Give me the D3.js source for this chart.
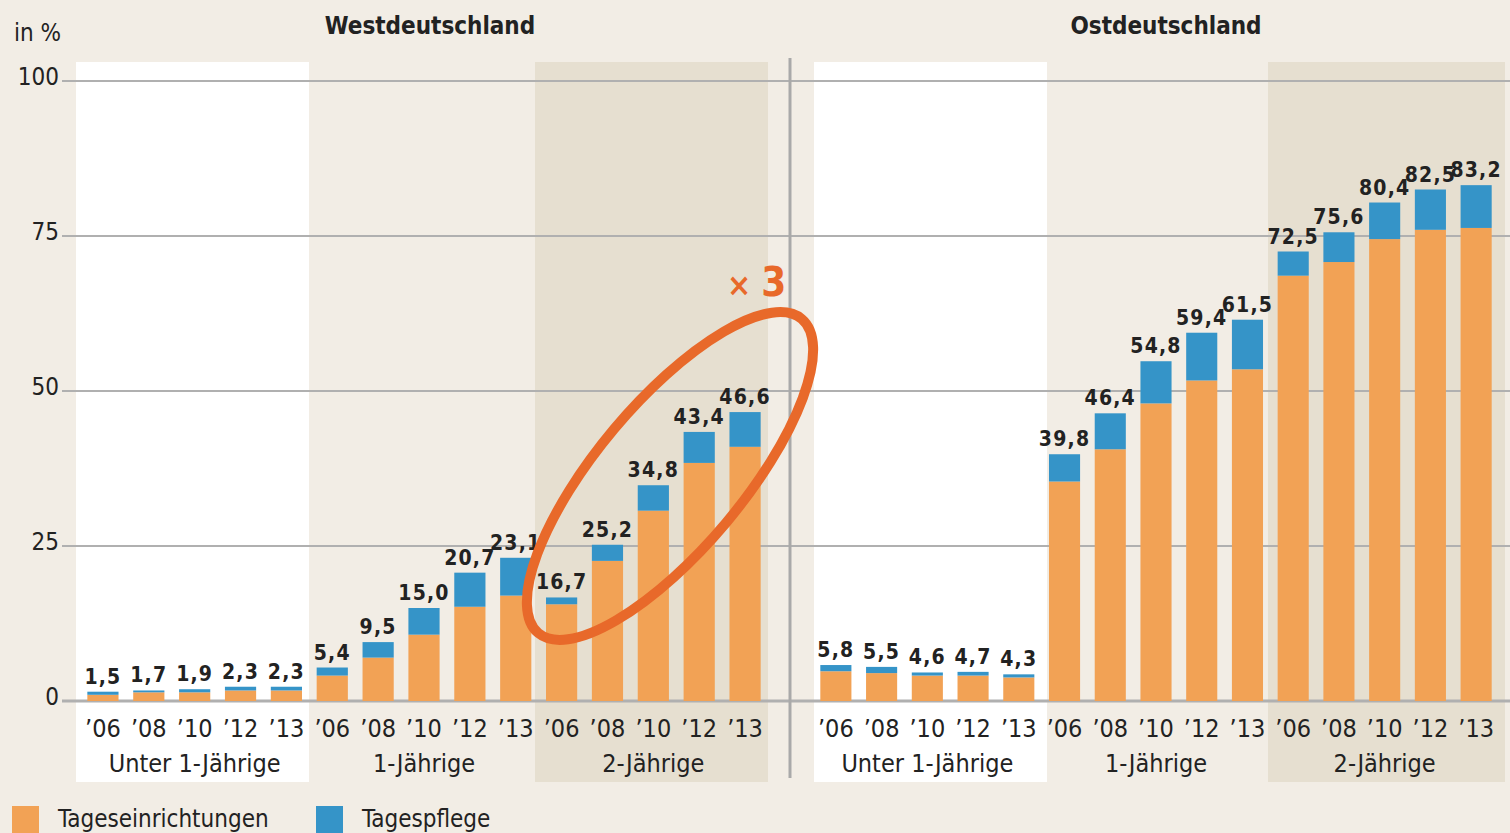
<!DOCTYPE html>
<html><head><meta charset="utf-8">
<script src="https://cdn.jsdelivr.net/npm/d3@7"></script>
<style>html,body{margin:0;padding:0;background:#f2ede5;}svg{display:block;}</style>
</head><body><svg id="c" width="1510" height="833"></svg>
<script>
const years = ["’06","’08","’10","’12","’13"];
const groups = ["Unter 1-Jährige","1-Jährige","2-Jährige"];
const panelTitles = ["Westdeutschland","Ostdeutschland"];
const yTicks = [0,25,50,75,100];
const seriesNames = ["Tageseinrichtungen","Tagespflege"];
// totals (labels)
const westTotal = [1.5,1.7,1.9,2.3,2.3, 5.4,9.5,15.0,20.7,23.1, 16.7,25.2,34.8,43.4,46.6];
const eastTotal = [5.8,5.5,4.6,4.7,4.3, 39.8,46.4,54.8,59.4,61.5, 72.5,75.6,80.4,82.5,83.2];
// Tageseinrichtungen
const westEinr = [1.0,1.4,1.4,1.7,1.7, 4.1,7.0,10.7,15.2,17.0, 15.6,22.6,30.7,38.4,41.0];
const eastEinr = [4.8,4.5,4.1,4.1,3.8, 35.4,40.6,48.0,51.7,53.5, 68.6,70.8,74.5,76.0,76.3];
// Tagespflege
const westPflege = [0.5,0.3,0.5,0.6,0.6, 1.3,2.5,4.3,5.5,6.1, 1.1,2.6,4.1,5.0,5.6];
const eastPflege = [1.0,1.0,0.5,0.6,0.5, 4.4,5.8,6.8,7.7,8.0, 3.9,4.8,5.9,6.5,6.9];

const C_OR = "#f2a255", C_BL = "#3594c8", TXT = "#222";
const FONT = "'DejaVu Sans Condensed','DejaVu Sans',sans-serif";
const svg = d3.select("#c");
svg.append("rect").attr("width",1510).attr("height",833).attr("fill","#f2ede5");

const y = d3.scaleLinear().domain([0,100]).range([701,81]);

const panels = [
  {title:panelTitles[0], total:westTotal, einr:westEinr, pfl:westPflege, edges:[76,309,535,768], band:[80,768], titleX:430},
  {title:panelTitles[1], total:eastTotal, einr:eastEinr, pfl:eastPflege, edges:[814,1047,1268,1505], band:[813,1499], titleX:1166}
];
const regionFill = ["#ffffff","#f2ede5","#e6dfd0"];

// regions
panels.forEach(p=>{
  for(let i=0;i<3;i++){
    svg.append("rect").attr("x",p.edges[i]).attr("y",62)
      .attr("width",p.edges[i+1]-p.edges[i]).attr("height",720).attr("fill",regionFill[i]);
  }
});

// gridlines
yTicks.forEach(t=>{
  svg.append("line").attr("x1",62).attr("x2",1510).attr("y1",y(t)).attr("y2",y(t))
    .attr("stroke","#b0b0b0").attr("stroke-width",t===0?3:2);
  svg.append("text").attr("x",59).attr("y",y(t)+4).attr("text-anchor","end")
    .attr("font-family",FONT).attr("font-size",24).attr("fill",TXT).text(t);
});
svg.append("text").attr("x",14).attr("y",41).attr("font-family",FONT).attr("font-size",24).attr("fill",TXT).text("in %");

panels.forEach(p=>{
  const idx = d3.range(15);
  const x = d3.scaleBand().domain(idx).range(p.band).paddingInner(0.32).paddingOuter(0.16).align(0.5);
  const g = svg.append("g");
  g.selectAll(".o").data(idx).join("rect")
    .attr("x",i=>x(i)).attr("width",x.bandwidth())
    .attr("y",i=>y(p.einr[i])).attr("height",i=>y(0)-y(p.einr[i])).attr("fill",C_OR);
  g.selectAll(".b").data(idx).join("rect")
    .attr("x",i=>x(i)).attr("width",x.bandwidth())
    .attr("y",i=>y(p.einr[i]+p.pfl[i])).attr("height",i=>y(p.einr[i])-y(p.einr[i]+p.pfl[i])).attr("fill",C_BL);
  g.selectAll(".v").data(idx).join("text")
    .attr("x",i=>x(i)+x.bandwidth()/2).attr("y",i=>y(p.total[i])-8)
    .attr("text-anchor","middle").attr("font-family",FONT).attr("font-weight","bold")
    .attr("font-size",21).attr("letter-spacing",1.2).attr("fill",TXT)
    .text(i=>d3.format(".1f")(p.total[i]).replace(".",","));
  g.selectAll(".xl").data(idx).join("text")
    .attr("x",i=>x(i)+x.bandwidth()/2).attr("y",737)
    .attr("text-anchor","middle").attr("font-family",FONT).attr("font-size",25).attr("fill",TXT)
    .text(i=>years[i%5]);
  groups.forEach((gname,gi)=>{
    g.append("text").attr("x",(x(gi*5)+x(gi*5+4)+x.bandwidth())/2).attr("y",772)
      .attr("text-anchor","middle").attr("font-family",FONT).attr("font-size",25).attr("fill",TXT).text(gname);
  });
  svg.append("text").attr("x",p.titleX).attr("y",34).attr("text-anchor","middle")
    .attr("font-family",FONT).attr("font-weight","bold").attr("font-size",24).attr("fill",TXT).text(p.title);
});

// divider
svg.append("line").attr("x1",790).attr("x2",790).attr("y1",58).attr("y2",778).attr("stroke","#a9a9a9").attr("stroke-width",3);

// ellipse highlight
svg.append("ellipse").attr("cx",670).attr("cy",476).attr("rx",205).attr("ry",73)
  .attr("transform","rotate(-50,670,476)").attr("fill","none").attr("stroke","#e8692a").attr("stroke-width",10);
const t3 = svg.append("text").attr("x",727).attr("y",296).attr("font-family",FONT).attr("font-weight","bold").attr("fill","#e8692a");
t3.append("tspan").attr("font-size",32).text("×");
t3.append("tspan").attr("font-size",40).attr("dx",10).text("3");

// legend
const leg = [{n:seriesNames[0],c:C_OR,x:12},{n:seriesNames[1],c:C_BL,x:316}];
leg.forEach(l=>{
  svg.append("rect").attr("x",l.x).attr("y",806).attr("width",27).attr("height",27).attr("fill",l.c);
  svg.append("text").attr("x",l.x+46).attr("y",827).attr("font-family",FONT).attr("font-size",24).attr("fill",TXT).text(l.n);
});
</script></body></html>
